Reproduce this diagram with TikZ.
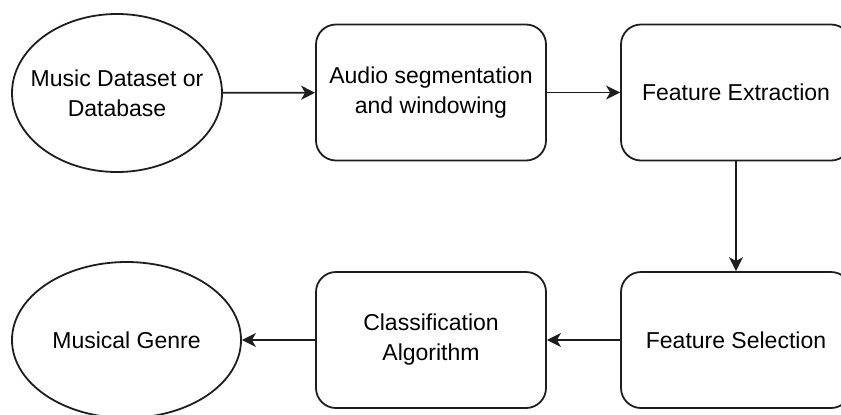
\documentclass[tikz,border=0pt]{standalone}
\usepackage{fontspec}
\setmainfont{Liberation Sans}
\usetikzlibrary{arrows.meta,positioning,shapes.geometric}
\definecolor{lineblack}{RGB}{30,30,30}
\tikzset{
  boxfont/.style={font=\fontsize{11.5}{15}\selectfont},
  stepbox/.style={draw=lineblack, line width=0.9pt, rounded corners=10pt, minimum width=115pt, minimum height=68pt, align=center, boxfont},
  endpoint/.style={ellipse, draw=lineblack, line width=0.9pt, inner sep=0pt},
  endtext/.style={align=center, boxfont},
  flow/.style={draw=lineblack, line width=0.9pt, -{Stealth[length=7pt, width=7pt, inset=2pt]}}
}
\begin{document}
\begin{tikzpicture}[x=0.5pt, y=-0.5pt]
  \useasboundingbox (0,0) rectangle (841,414);
  \clip (0,0) rectangle (841,414);

  \node[endpoint, minimum width=105pt, minimum height=79pt, label={[endtext]center:Music Dataset or\\Database}] (dataset) at (117,93) {};
  \node[stepbox] (segment) at (431,92.5) {Audio segmentation\\and windowing};
  \node[stepbox] (extract) at (736,92.5) {Feature Extraction};

  \node[stepbox] (select) at (736,340) {Feature Selection};
  \node[stepbox] (classify) at (431,340) {Classification\\Algorithm};
  \node[endpoint, minimum width=114.5pt, minimum height=78pt, label={[endtext]center:Musical Genre}] (genre) at (126.5,340) {};

  \draw[flow] (dataset) -- (segment);
  \draw[flow] (segment) -- (extract);
  \draw[flow] (extract) -- (select);
  \draw[flow] (select) -- (classify);
  \draw[flow] (classify) -- (genre);
\end{tikzpicture}
\end{document}
